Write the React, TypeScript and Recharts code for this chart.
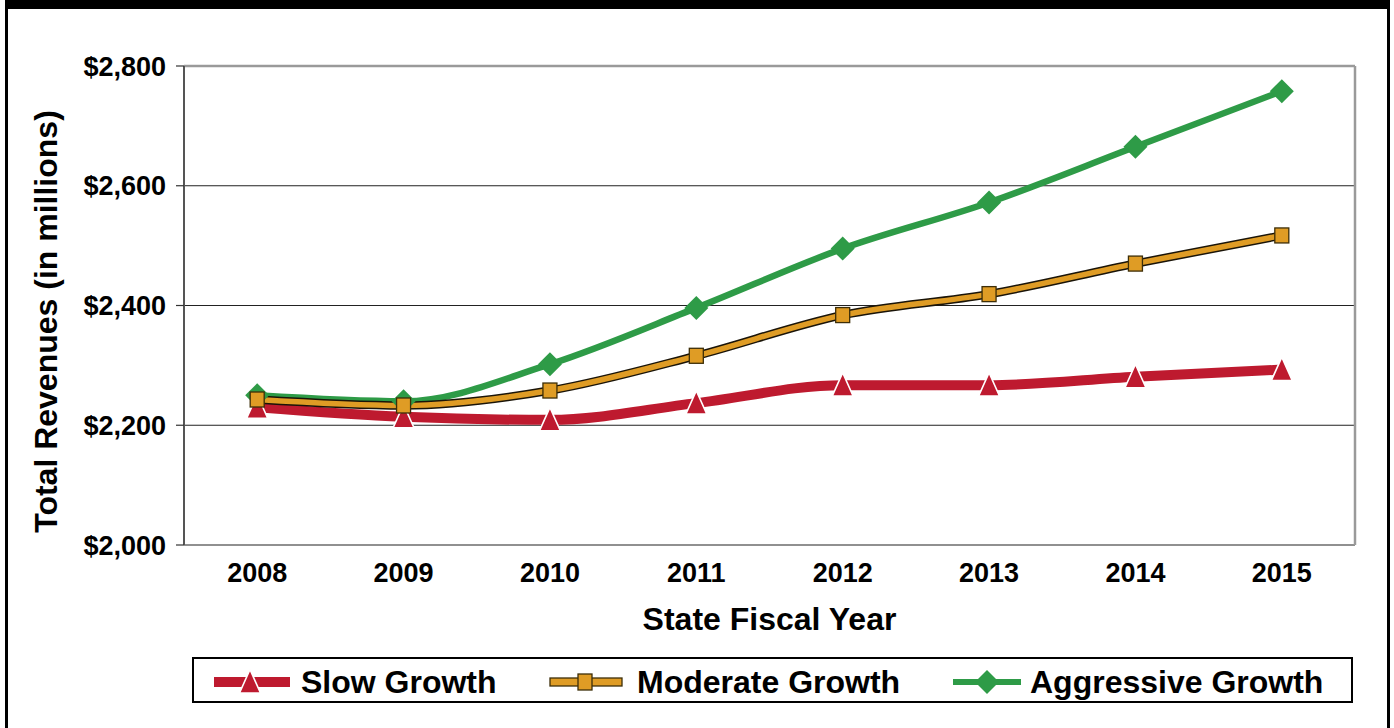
import React from 'react';
import { LineChart, Line, XAxis, YAxis, CartesianGrid, ReferenceLine, Legend, Label } from 'recharts';

// ---- data ----
const years = [2008, 2009, 2010, 2011, 2012, 2013, 2014, 2015];
const slowGrowth = [2230, 2214, 2209, 2237, 2267, 2267, 2281, 2293];
const moderateGrowth = [2243, 2233, 2258, 2316, 2384, 2419, 2470, 2517];
const aggressiveGrowth = [2250, 2240, 2302, 2396, 2495, 2572, 2665, 2758];
const yTicks = [2000, 2200, 2400, 2600, 2800];
const seriesNames = ['Slow Growth', 'Moderate Growth', 'Aggressive Growth'];
const xTitle = 'State Fiscal Year';
const yTitle = 'Total Revenues (in millions)';

// ---- styles ----
const RED = '#BE1A2F';
const GOLD = '#DF9C25';
const GREEN = '#2E9B47';
const FONT = '"Liberation Sans", Arial, Helvetica, sans-serif';

const data = years.map((y, i) => ({
  year: y,
  slow: slowGrowth[i],
  moderate: moderateGrowth[i],
  aggressive: aggressiveGrowth[i],
}));

const boundaryTicks = years.map((y) => y + 0.5);
const xDomain = [years[0] - 0.5, years[years.length - 1] + 0.5];

const triPoints = (cx: number, cy: number) =>
  `${cx},${cy - 12.5} ${cx - 10.5},${cy + 11} ${cx + 10.5},${cy + 11}`;
const diaPoints = (cx: number, cy: number) =>
  `${cx},${cy - 12} ${cx + 12},${cy} ${cx},${cy + 12} ${cx - 12},${cy}`;

const TriangleDot = (props: any) => {
  const { cx, cy, index } = props;
  if (cx == null || cy == null) return <g key={index} />;
  return <polygon key={index} points={triPoints(cx, cy)} fill={RED} stroke="#ffffff" strokeWidth={1.6} />;
};
const SquareDot = (props: any) => {
  const { cx, cy, index } = props;
  if (cx == null || cy == null) return <g key={index} />;
  return <rect key={index} x={cx - 7} y={cy - 7.5} width={14} height={15} fill={GOLD} stroke="#3d2e08" strokeWidth={1.3} />;
};
const DiamondDot = (props: any) => {
  const { cx, cy, index } = props;
  if (cx == null || cy == null) return <g key={index} />;
  return <polygon key={index} points={diaPoints(cx, cy)} fill={GREEN} />;
};

const renderLegend = () => (
  <svg width={1161} height={46} style={{ display: 'block' }}>
    <rect x={1} y={1} width={1159} height={44} fill="#ffffff" stroke="#000000" strokeWidth={2} />
    {/* Slow */}
    <line x1={22} y1={25} x2={98} y2={25} stroke={RED} strokeWidth={10} />
    <polygon points={triPoints(58, 25)} fill={RED} stroke="#ffffff" strokeWidth={1.6} />
    <text x={109} y={36} fontFamily={FONT} fontWeight="bold" fontSize={32} fill="#000">{seriesNames[0]}</text>
    {/* Moderate */}
    <rect x={358} y={21} width={72} height={8} fill={GOLD} stroke="#3d2e08" strokeWidth={1.3} />
    <rect x={386} y={17} width={14} height={16} fill={GOLD} stroke="#3d2e08" strokeWidth={1.3} />
    <text x={445} y={36} fontFamily={FONT} fontWeight="bold" fontSize={32} fill="#000">{seriesNames[1]}</text>
    {/* Aggressive */}
    <line x1={761} y1={25} x2={829} y2={25} stroke={GREEN} strokeWidth={6} />
    <polygon points={diaPoints(795, 25)} fill={GREEN} />
    <text x={838} y={36} fontFamily={FONT} fontWeight="bold" fontSize={32} fill="#000">{seriesNames[2]}</text>
  </svg>
);

const fmt = (v: number) => '$' + v.toLocaleString('en-US');

export default function App() {
  return (
    <div style={{ position: 'absolute', left: 0, top: 0, width: 1394, height: 728, background: '#ffffff', overflow: 'hidden' }}>
      <div
        style={{
          position: 'absolute',
          left: 5,
          top: 0,
          width: 1385,
          height: 760,
          boxSizing: 'border-box',
          borderTop: '9px solid #000',
          borderLeft: '3px solid #000',
          borderRight: '3px solid #000',
        }}
      />
      <div style={{ position: 'absolute', left: 0, top: 0 }}>
        <LineChart
          width={1394}
          height={728}
          data={data}
          margin={{ top: 66, right: 39, bottom: 93, left: 0 }}
          style={{ fontFamily: FONT }}
        >
          <CartesianGrid xAxisId="labels" horizontal vertical={false} stroke="#222222" strokeWidth={1.2} />
          <XAxis
            xAxisId="bounds"
            dataKey="year"
            type="number"
            domain={xDomain}
            ticks={boundaryTicks}
            tick={false}
            height={0}
            tickSize={8}
            axisLine={{ stroke: '#555555', strokeWidth: 2 }}
            tickLine={{ stroke: '#333333', strokeWidth: 1.2 }}
          />
          <XAxis
            xAxisId="labels"
            dataKey="year"
            type="number"
            domain={xDomain}
            ticks={years}
            interval={0}
            height={90}
            tickSize={8}
            tickMargin={10}
            axisLine={false}
            tickLine={false}
            tick={{ fontSize: 27, fontWeight: 'bold', fill: '#000', fontFamily: FONT }}
          >
            <Label
              value={xTitle}
              position="insideBottom"
              offset={5}
              style={{ fontSize: 32, fontWeight: 'bold', fill: '#000', fontFamily: FONT }}
            />
          </XAxis>
          <YAxis
            domain={[2000, 2800]}
            ticks={yTicks}
            width={184}
            tickSize={8}
            tickMargin={10}
            tickFormatter={fmt}
            axisLine={{ stroke: '#555555', strokeWidth: 2 }}
            tickLine={{ stroke: '#333333', strokeWidth: 1.2 }}
            tick={{ fontSize: 27, fontWeight: 'bold', fill: '#000', fontFamily: FONT }}
          >
            <Label
              value={yTitle}
              angle={-90}
              position="center"
              dx={-46}
              dy={16}
              style={{ fontSize: 32, fontWeight: 'bold', fill: '#000', fontFamily: FONT, textAnchor: 'middle' }}
            />
          </YAxis>
          <ReferenceLine xAxisId="labels" y={2800} stroke="#9a9a9a" strokeWidth={2.5} ifOverflow="extendDomain" />
          <ReferenceLine xAxisId="labels" x={xDomain[1]} stroke="#9a9a9a" strokeWidth={2.5} />
          <Legend
            layout="horizontal"
            verticalAlign="middle"
            align="center"
            content={renderLegend}
            wrapperStyle={{ left: 192, top: 657, width: 1161, height: 46 }}
          />
          <Line
            xAxisId="labels"
            type="monotone"
            dataKey="slow"
            name={seriesNames[0]}
            stroke={RED}
            strokeWidth={10}
            dot={TriangleDot}
            activeDot={false}
            isAnimationActive={false}
          />
          <Line
            xAxisId="labels"
            type="monotone"
            dataKey="aggressive"
            name={seriesNames[2]}
            stroke={GREEN}
            strokeWidth={6.5}
            dot={DiamondDot}
            activeDot={false}
            isAnimationActive={false}
          />
          <Line
            xAxisId="labels"
            type="monotone"
            dataKey="moderate"
            name="moderate-outline"
            legendType="none"
            stroke="#1a1408"
            strokeWidth={8.5}
            dot={false}
            activeDot={false}
            isAnimationActive={false}
          />
          <Line
            xAxisId="labels"
            type="monotone"
            dataKey="moderate"
            name={seriesNames[1]}
            stroke={GOLD}
            strokeWidth={5.5}
            dot={SquareDot}
            activeDot={false}
            isAnimationActive={false}
          />
        </LineChart>
      </div>
    </div>
  );
}
